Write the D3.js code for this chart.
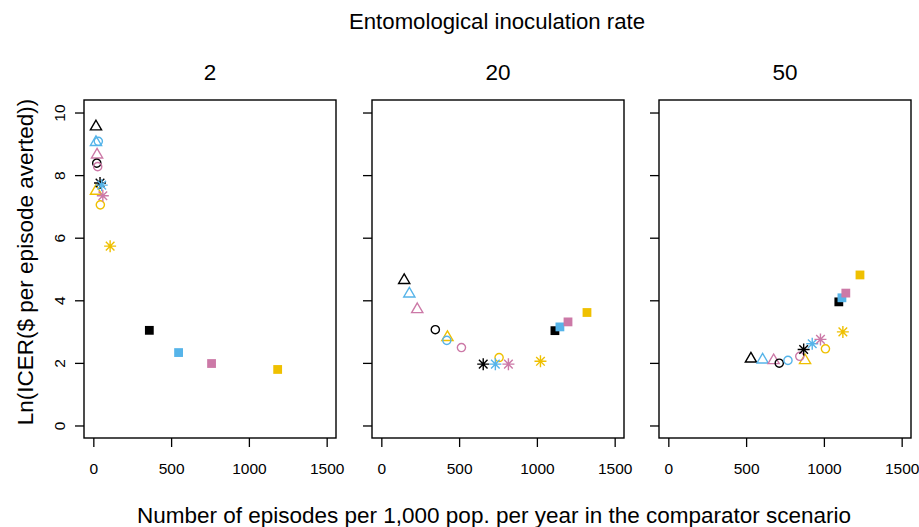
<!DOCTYPE html>
<html><head><meta charset="utf-8">
<script src="https://cdn.jsdelivr.net/npm/d3@7"></script>
<style>body{margin:0;background:#fff}svg{display:block;font-family:"Liberation Sans",Arial,sans-serif}</style>
</head><body><svg id="c" width="919" height="527"></svg>
<script>
// ---- data ----
const panels = ["2", "20", "50"];
const shapes = ["triangle", "circle", "asterisk", "square"];
const colors = ["#000000", "#56B4E9", "#CC79A7", "#EFC000"];
// order within each shape: black, blue, pink, yellow
const eir2_x  = [17, 17, 24, 17,   22, 32, 28, 45,   43, 54, 61, 108,   360, 548, 760, 1185];
const eir2_y  = [9.6, 9.1, 8.7, 7.54,   8.38, 9.08, 8.27, 7.05,   7.75, 7.68, 7.34, 5.73,   3.04, 2.33, 1.98, 1.79];
const eir20_x = [147, 180, 231, 425,   347, 421, 515, 757,   655, 733, 817, 1023,   1116, 1148, 1200, 1322];
const eir20_y = [4.69, 4.26, 3.76, 2.87,   3.06, 2.72, 2.49, 2.17,   1.96, 1.96, 1.96, 2.05,   3.03, 3.15, 3.31, 3.61];
const eir50_x = [531, 606, 677, 879,   713, 769, 845, 1010,   870, 925, 978, 1122,   1096, 1116, 1141, 1232];
const eir50_y = [2.18, 2.15, 2.13, 2.13,   1.99, 2.08, 2.21, 2.45,   2.43, 2.61, 2.75, 2.99,   3.95, 4.08, 4.23, 4.81];
const xTicks = [0, 500, 1000, 1500];
const yTicks = [0, 2, 4, 6, 8, 10];
const mainTitle = "Entomological inoculation rate";
const xLabel = "Number of episodes per 1,000 pop. per year in the comparator scenario";
const yLabel = "Ln(ICER($ per episode averted))";

const panelData = [[eir2_x, eir2_y], [eir20_x, eir20_y], [eir50_x, eir50_y]];

// ---- layout ----
const svg = d3.select("#c");
const lefts = [84, 372, 659];
const pw = 252, pTop = 100, pBottom = 438;
const y = d3.scaleLinear().domain([-0.4, 10.4]).range([pBottom, pTop]);

function symPath(shape) {
  if (shape === "triangle") { const h = 9.6, w = 11.2; return `M0,${-h/2}L${w/2},${h/2}L${-w/2},${h/2}Z`; }
  if (shape === "circle") { const r = 4.1; return `M${r},0A${r},${r},0,1,1,${-r},0A${r},${r},0,1,1,${r},0Z`; }
  if (shape === "asterisk") { const r = 6, d = 4.3; return `M${-r},0H${r}M0,${-r}V${r}M${-d},${-d}L${d},${d}M${-d},${d}L${d},${-d}`; }
  const s = 4.4; return `M${-s},${-s}H${s}V${s}H${-s}Z`;
}

panelData.forEach(([xs, ys], p) => {
  const L = lefts[p];
  const x = d3.scaleLinear().domain([-60, 1560]).range([L, L + pw]);
  const g = svg.append("g");
  // x axis
  const xa = g.append("g").attr("transform", `translate(0,${pBottom})`)
    .call(d3.axisBottom(x).tickValues(xTicks).tickSize(9).tickPadding(16).tickFormat(d3.format("d")));
  xa.select(".domain").remove();
  xa.selectAll("line").attr("stroke", "#000").attr("stroke-width", 1.3);
  xa.selectAll("text").attr("font-size", 15.5).attr("fill", "#000").attr("font-family", "Liberation Sans, Arial, sans-serif");
  // y axis
  const ya = g.append("g").attr("transform", `translate(${L},0)`)
    .call(d3.axisLeft(y).tickValues(yTicks).tickSize(9).tickFormat(p === 0 ? d3.format("d") : () => ""));
  ya.select(".domain").remove();
  ya.selectAll("line").attr("stroke", "#000").attr("stroke-width", 1.3);
  if (p === 0) {
    ya.selectAll("text").attr("font-size", 15.5).attr("fill", "#000")
      .attr("font-family", "Liberation Sans, Arial, sans-serif")
      .attr("transform", "rotate(-90)")
      .attr("x", 0).attr("dy", 0).attr("y", -19)
      .attr("text-anchor", "middle");
  }
  // box
  g.append("rect").attr("x", L).attr("y", pTop).attr("width", pw).attr("height", pBottom - pTop)
    .attr("fill", "none").attr("stroke", "#000").attr("stroke-width", 1.4);
  // title
  g.append("text").attr("x", L + pw / 2).attr("y", 80).attr("text-anchor", "middle")
    .attr("font-size", 22.5).text(panels[p]);
  // points
  const pts = xs.map((v, i) => ({ x: v, y: ys[i], shape: shapes[Math.floor(i / 4)], color: colors[i % 4] }));
  g.selectAll("path.pt").data(pts).join("path").attr("class", "pt")
    .attr("transform", d => `translate(${x(d.x)},${y(d.y)})`)
    .attr("d", d => symPath(d.shape))
    .attr("fill", d => d.shape === "square" ? d.color : "none")
    .attr("stroke", d => d.shape === "square" ? "none" : d.color)
    .attr("stroke-width", 1.4);
});

svg.append("text").attr("x", 497).attr("y", 29).attr("text-anchor", "middle").attr("font-size", 22.2).text(mainTitle);
svg.append("text").attr("x", 494).attr("y", 523).attr("text-anchor", "middle").attr("font-size", 22.5).text(xLabel);
svg.append("text").attr("transform", "translate(33,262) rotate(-90)").attr("text-anchor", "middle").attr("font-size", 22.5).text(yLabel);
</script></body></html>
